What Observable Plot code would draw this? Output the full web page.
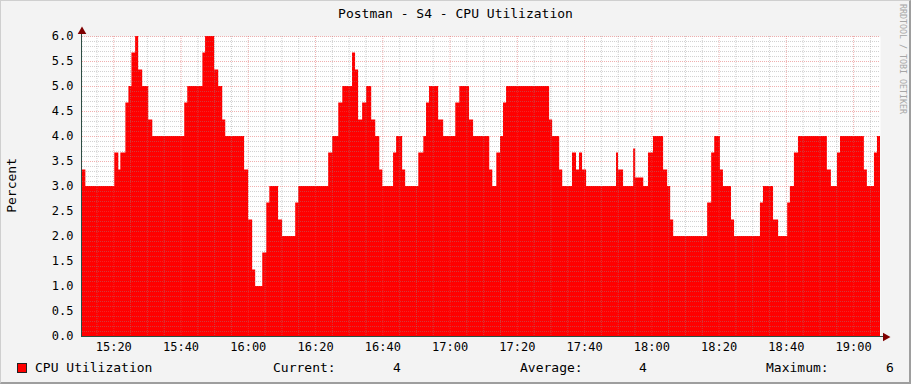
<!DOCTYPE html>
<html><head><meta charset="utf-8">
<script src="https://cdn.jsdelivr.net/npm/d3@7"></script>
<script src="https://cdn.jsdelivr.net/npm/@observablehq/plot@0.6"></script>
<style>
html,body{margin:0;padding:0;background:#f3f3f3;}
#chart{position:relative;width:911px;height:384px;background:#f3f3f3;overflow:hidden;font-family:"DejaVu Sans Mono",monospace;color:#000;}
#chart .abs{position:absolute;white-space:pre;line-height:16px;}
#plot{position:absolute;left:0;top:0;}
#shadow{position:absolute;left:0;top:0;width:911px;height:384px;box-sizing:border-box;border-top:1px solid #cfcfcf;border-left:1px solid #cfcfcf;border-right:2px solid #9e9e9e;border-bottom:2px solid #9e9e9e;pointer-events:none;}
</style>
</head><body>
<div id="chart">
  <div id="plot"></div>
  <div class="abs" id="title" style="left:0;top:6px;width:911px;text-align:center;font-size:13px;"></div>
  <div class="abs" id="ylabel" style="left:4px;top:158px;font-size:13px;writing-mode:vertical-rl;transform:rotate(180deg);"></div>
  <div class="abs" id="credit" style="left:898px;top:4px;font-size:8.3px;line-height:10px;color:#a6a6a6;writing-mode:vertical-rl;"></div>
  <div class="abs" style="left:17px;top:363px;width:8px;height:8px;background:#ff0000;border:1px solid #222;"></div>
  <div class="abs" id="lg0" style="left:35px;top:360px;font-size:13px;"></div>
  <div class="abs" id="lg1" style="left:273px;top:360px;font-size:13px;"></div>
  <div class="abs" id="lg2" style="left:393px;top:360px;font-size:13px;"></div>
  <div class="abs" id="lg3" style="left:520px;top:360px;font-size:13px;"></div>
  <div class="abs" id="lg4" style="left:639px;top:360px;font-size:13px;"></div>
  <div class="abs" id="lg5" style="left:766px;top:360px;font-size:13px;"></div>
  <div class="abs" id="lg6" style="left:886px;top:360px;font-size:13px;"></div>
  <div id="shadow"></div>
</div>
<script>
// ---- data ----
const titleText = "Postman - S4 - CPU Utilization";
const yLabelText = "Percent";
const creditText = "RRDTOOL / TOBI OETIKER";
const seriesName = "CPU Utilization";
const legendLabels = ["Current:", "Average:", "Maximum:"];
const legendValues = ["4", "4", "6"];

// step change times (HH:MM:SS) and the value held from that time on
const stepTimes = [
  "15:10:42","15:11:42","15:20:18","15:21:30","15:22:06","15:23:36","15:24:30","15:25:24","15:26:30","15:27:24",
  "15:28:36","15:30:24","15:31:36","15:41:06","15:42:00","15:46:30","15:47:18","15:50:00","15:51:12","15:52:24",
  "15:53:18","15:58:54","16:00:06","16:01:18","16:02:12","16:04:18","16:05:30","16:06:24","16:09:00","16:10:12",
  "16:14:06","16:15:00","16:23:54","16:25:06","16:26:54","16:28:06","16:31:00","16:31:54","16:32:48","16:34:00",
  "16:35:12","16:36:42","16:37:54","16:39:06","16:40:00","16:43:12","16:44:06","16:45:54","16:46:48","16:50:42",
  "16:52:12","16:53:00","16:53:54","16:56:36","16:58:06","17:01:42","17:02:54","17:05:48","17:07:00","17:11:48",
  "17:12:42","17:13:54","17:15:00","17:15:54","17:16:48","17:29:36","17:30:30","17:32:36","17:33:30","17:36:24",
  "17:37:36","17:38:30","17:39:24","17:40:36","17:49:30","17:50:06","17:51:36","17:54:36","17:55:12","17:57:36",
  "17:59:00","18:00:30","18:03:30","18:04:42","18:05:36","18:06:30","18:16:36","18:17:48","18:18:42","18:20:24",
  "18:21:18","18:23:42","18:24:36","18:32:18","18:33:12","18:36:12","18:37:42","18:40:24","18:41:12","18:42:24",
  "18:43:36","18:52:12","18:53:24","18:55:12","18:56:06","19:03:12","19:04:06","19:06:12","19:07:06","19:08:00"
];
const stepValues = [
  3.33,3.00,3.67,3.33,3.67,4.67,5.00,5.67,6.00,5.33,
  5.00,4.33,4.00,4.67,5.00,5.67,6.00,5.33,5.00,4.33,
  4.00,3.33,2.33,1.33,1.00,1.67,2.67,3.00,2.33,2.00,
  2.67,3.00,3.67,4.00,4.67,5.00,5.67,5.33,4.33,4.67,
  5.00,4.33,4.00,3.33,3.00,3.67,4.00,3.33,3.00,3.67,
  4.00,4.67,5.00,4.33,4.00,4.67,5.00,4.33,4.00,3.33,
  3.00,3.67,4.00,4.67,5.00,4.33,4.00,3.33,3.00,3.67,
  3.33,3.67,3.33,3.00,3.67,3.33,3.00,3.75,3.17,3.00,
  3.67,4.00,3.33,3.00,2.33,2.00,2.67,3.67,4.00,3.33,
  3.00,2.33,2.00,2.67,3.00,2.33,2.00,2.67,3.00,3.67,
  4.00,3.33,3.00,3.67,4.00,3.33,3.00,3.67,4.00,4.00
];
const xStart = "15:10:42";
const xEnd = "19:08:00";
const yMax = 6;
const majorYTicks = [0,0.5,1,1.5,2,2.5,3,3.5,4,4.5,5,5.5,6];
const majorXTicks = ["15:20","15:40","16:00","16:20","16:40","17:00","17:20","17:40","18:00","18:20","18:40","19:00"];

// ---- build ----
const toDate = s => { const p = s.split(":").map(Number); return new Date(Date.UTC(2020,0,1,p[0],p[1],p[2]||0)); };
const series = stepTimes.map((t,i) => ({t: toDate(t), v: stepValues[i]}));
const start = toDate(xStart), end = toDate(xEnd);
const majorX = majorXTicks.map(toDate);
const minorX = d3.utcMinute.every(5).range(start, end).filter(d => d.getUTCMinutes() % 20 !== 0);
const minorY = d3.range(1, yMax*10).map(i => i/10).filter(v => Math.round(v*10) % 5 !== 0);

const plot = Plot.plot({
  width: 911, height: 356,
  marginLeft: 82, marginRight: 31, marginTop: 36, marginBottom: 20,
  style: {background: "transparent", fontFamily: "'DejaVu Sans Mono', monospace", fontSize: "12px", color: "#000", overflow: "visible"},
  x: {type: "utc", domain: [start, end], label: null},
  y: {domain: [0, yMax], label: null},
  marks: [
    Plot.frame({fill: "white", stroke: null}),
    Plot.areaY(series, {x: "t", y: "v", curve: "step-after", fill: "#ff0000"}),
    Plot.ruleY(minorY, {stroke: "#8f8f8f", strokeOpacity: 0.4, strokeDasharray: "1,1"}),
    Plot.ruleX(minorX, {stroke: "#8f8f8f", strokeOpacity: 0.4, strokeDasharray: "1,1"}),
    Plot.ruleY(majorYTicks.filter(v => v > 0), {stroke: "#de5050", strokeOpacity: 0.45, strokeDasharray: "1,1"}),
    Plot.ruleX(majorX, {stroke: "#de5050", strokeOpacity: 0.45, strokeDasharray: "1,1"}),
    Plot.axisY({ticks: majorYTicks, tickFormat: d3.format(".1f"), tickSize: 0, tickPadding: 9, fill: "#000", label: null}),
    Plot.axisX({ticks: majorX, tickFormat: d3.utcFormat("%H:%M"), tickSize: 0, tickPadding: 6, fill: "#000", label: null}),
    Plot.ruleX([start], {stroke: "#2c4d43", dx: -1, insetTop: -4}),
    Plot.ruleY([0], {stroke: "#2c4d43", insetRight: -4, insetLeft: -1}),
    Plot.dot([0], {frameAnchor: "top-left", symbol: "triangle", r: 3.2, fill: "#7f0000", stroke: null, dx: -0.5, dy: -5}),
    Plot.dot([0], {frameAnchor: "bottom-right", symbol: "triangle", rotate: 90, r: 3.2, fill: "#7f0000", stroke: null, dx: 5, dy: 0.5})
  ]
});
document.getElementById("plot").appendChild(plot);
document.getElementById("title").textContent = titleText;
document.getElementById("ylabel").textContent = yLabelText;
document.getElementById("credit").textContent = creditText;
document.getElementById("lg0").textContent = seriesName;
document.getElementById("lg1").textContent = legendLabels[0];
document.getElementById("lg2").textContent = legendValues[0];
document.getElementById("lg3").textContent = legendLabels[1];
document.getElementById("lg4").textContent = legendValues[1];
document.getElementById("lg5").textContent = legendLabels[2];
document.getElementById("lg6").textContent = legendValues[2];
</script>
</body></html>
